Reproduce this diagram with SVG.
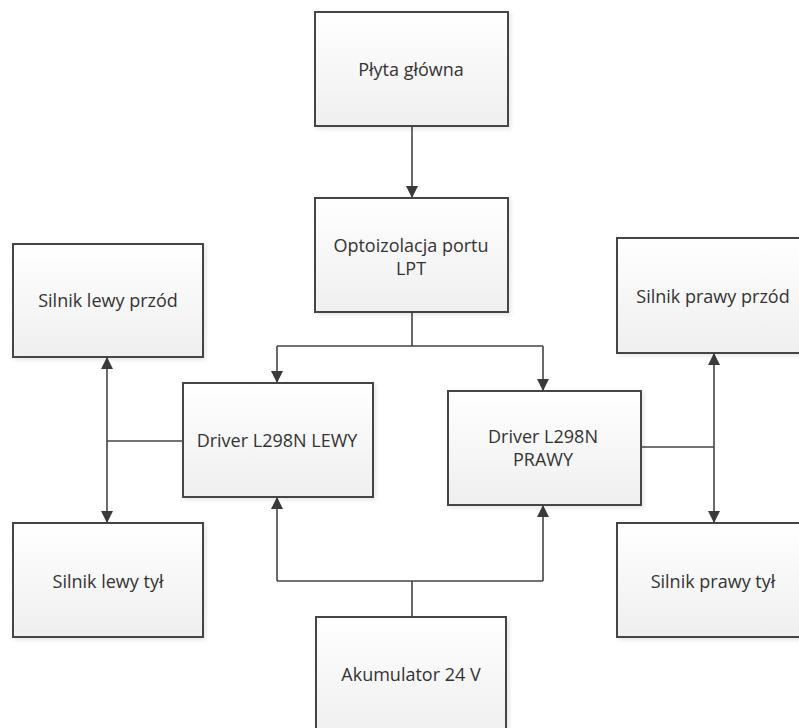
<svg xmlns="http://www.w3.org/2000/svg" width="799" height="728" viewBox="0 0 799 728">
  <defs>
    <linearGradient id="boxFill" x1="0" y1="0" x2="0" y2="1">
      <stop offset="0" stop-color="#ffffff"/>
      <stop offset="1" stop-color="#efefef"/>
    </linearGradient>
    <filter id="shadow" x="-10%" y="-10%" width="125%" height="125%">
      <feDropShadow dx="2" dy="2" stdDeviation="2" flood-color="#000" flood-opacity="0.1"/>
    </filter>
    <marker id="arrow" viewBox="0 0 12 12" refX="12" refY="6" markerWidth="12" markerHeight="12" markerUnits="userSpaceOnUse" orient="auto-start-reverse">
      <path d="M0,0 L12,6 L0,12 Z" fill="#3a3a3a"/>
    </marker>
  </defs>
  <style>
    .box { fill: url(#boxFill); stroke: #444; stroke-width: 2; filter: url(#shadow); }
    .label { font-family: "Open Sans", "Noto Sans", sans-serif; font-size: 18px; fill: #333; text-anchor: middle; }
    .wire { fill: none; stroke: #444; stroke-width: 1.6; }
    .arr { marker-end: url(#arrow); }
    .arr2 { marker-start: url(#arrow); marker-end: url(#arrow); }
  </style>

  <rect width="799" height="728" fill="#ffffff"/>

  <g id="connectors">
    <path class="wire arr" d="M412,126 V198"/>
    <path class="wire" d="M412,312 V346 M277,346 H543"/>
    <path class="wire arr" d="M277,346 V383"/>
    <path class="wire arr" d="M543,346 V391"/>
    <path class="wire arr2" d="M107,357 V523"/>
    <path class="wire" d="M107,441 H183"/>
    <path class="wire arr2" d="M714,353 V523"/>
    <path class="wire" d="M641,447 H714"/>
    <path class="wire" d="M412,617 V581 M277,581 H543"/>
    <path class="wire arr" d="M277,581 V497"/>
    <path class="wire arr" d="M543,581 V505"/>
  </g>

  <g id="plyta-glowna">
    <rect class="box" x="315" y="12" width="193" height="114"/>
    <text class="label" x="411" y="76">Płyta główna</text>
  </g>

  <g id="optoizolacja">
    <rect class="box" x="315" y="198" width="193" height="114"/>
    <text class="label" x="411" y="252">Optoizolacja portu</text>
    <text class="label" x="411" y="275">LPT</text>
  </g>

  <g id="silnik-lewy-przod">
    <rect class="box" x="13" y="244" width="190" height="113"/>
    <text class="label" x="108" y="307">Silnik lewy przód</text>
  </g>

  <g id="silnik-prawy-przod">
    <rect class="box" x="617" y="238" width="190" height="115"/>
    <text class="label" x="713" y="303">Silnik prawy przód</text>
  </g>

  <g id="driver-lewy">
    <rect class="box" x="183" y="383" width="190" height="114"/>
    <text class="label" x="277" y="447">Driver L298N LEWY</text>
  </g>

  <g id="driver-prawy">
    <rect class="box" x="448" y="391" width="193" height="114"/>
    <text class="label" x="543" y="443">Driver L298N</text>
    <text class="label" x="543" y="466">PRAWY</text>
  </g>

  <g id="silnik-lewy-tyl">
    <rect class="box" x="13" y="523" width="190" height="114"/>
    <text class="label" x="108" y="588">Silnik lewy tył</text>
  </g>

  <g id="silnik-prawy-tyl">
    <rect class="box" x="617" y="523" width="190" height="114"/>
    <text class="label" x="713" y="588">Silnik prawy tył</text>
  </g>

  <g id="akumulator">
    <rect class="box" x="316" y="617" width="190" height="120"/>
    <text class="label" x="411" y="681">Akumulator 24 V</text>
  </g>
</svg>
